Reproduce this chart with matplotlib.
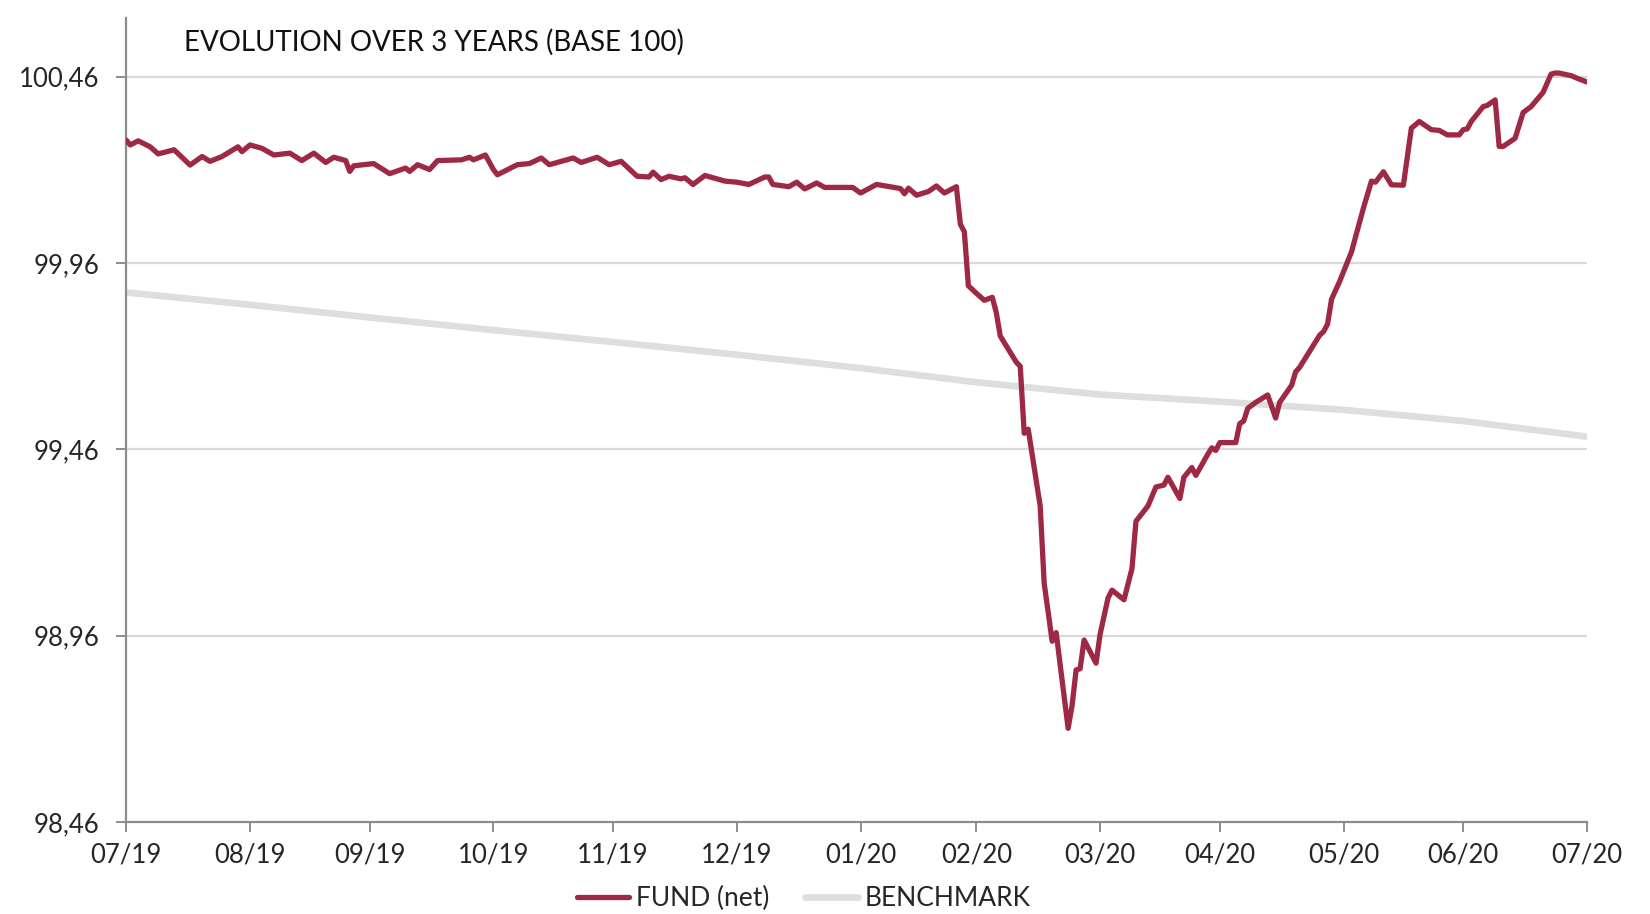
import pandas as pd
import matplotlib
matplotlib.use("Agg")
import matplotlib.pyplot as plt
import matplotlib.dates as mdates
from matplotlib.ticker import FuncFormatter

fund_dates = [
    "2019-07-31", "2019-08-01", "2019-08-03", "2019-08-06", "2019-08-08", "2019-08-12",
    "2019-08-16", "2019-08-19", "2019-08-21", "2019-08-24", "2019-08-28", "2019-08-29",
    "2019-08-31", "2019-09-03", "2019-09-06", "2019-09-10", "2019-09-13", "2019-09-16",
    "2019-09-19", "2019-09-21", "2019-09-24", "2019-09-25", "2019-09-26", "2019-10-01",
    "2019-10-05", "2019-10-09", "2019-10-10", "2019-10-12", "2019-10-15", "2019-10-17",
    "2019-10-23", "2019-10-25", "2019-10-26", "2019-10-29", "2019-10-31", "2019-11-01",
    "2019-11-06", "2019-11-09", "2019-11-12", "2019-11-14", "2019-11-17", "2019-11-20",
    "2019-11-22", "2019-11-26", "2019-11-29", "2019-12-02", "2019-12-06", "2019-12-09",
    "2019-12-10", "2019-12-12", "2019-12-14", "2019-12-17", "2019-12-18", "2019-12-20",
    "2019-12-23", "2019-12-28", "2019-12-31", "2020-01-03", "2020-01-07", "2020-01-08",
    "2020-01-09", "2020-01-13", "2020-01-15", "2020-01-17", "2020-01-20", "2020-01-22",
    "2020-01-29", "2020-01-31", "2020-02-04", "2020-02-10", "2020-02-11", "2020-02-12",
    "2020-02-14", "2020-02-17", "2020-02-19", "2020-02-21", "2020-02-24", "2020-02-25",
    "2020-02-26", "2020-02-27", "2020-02-29", "2020-03-02", "2020-03-04", "2020-03-05",
    "2020-03-06", "2020-03-10", "2020-03-11", "2020-03-12", "2020-03-13", "2020-03-16",
    "2020-03-17", "2020-03-19", "2020-03-20", "2020-03-23", "2020-03-24", "2020-03-25",
    "2020-03-26", "2020-03-27", "2020-03-30", "2020-03-31", "2020-04-02", "2020-04-03",
    "2020-04-06", "2020-04-08", "2020-04-09", "2020-04-12", "2020-04-14", "2020-04-16",
    "2020-04-17", "2020-04-20", "2020-04-21", "2020-04-23", "2020-04-24", "2020-04-27",
    "2020-04-28", "2020-04-29", "2020-04-30", "2020-05-04", "2020-05-05", "2020-05-06",
    "2020-05-07", "2020-05-09", "2020-05-12", "2020-05-14", "2020-05-15", "2020-05-18",
    "2020-05-19", "2020-05-20", "2020-05-25", "2020-05-26", "2020-05-27", "2020-05-28",
    "2020-05-30", "2020-06-02", "2020-06-05", "2020-06-07", "2020-06-08", "2020-06-10",
    "2020-06-12", "2020-06-15", "2020-06-17", "2020-06-19", "2020-06-22", "2020-06-24",
    "2020-06-26", "2020-06-29", "2020-06-30", "2020-07-01", "2020-07-02", "2020-07-05",
    "2020-07-06", "2020-07-08", "2020-07-09", "2020-07-10", "2020-07-13", "2020-07-15",
    "2020-07-17", "2020-07-20", "2020-07-22", "2020-07-23", "2020-07-24", "2020-07-27",
    "2020-07-29", "2020-07-31",
]
fund_values = [
    100.290, 100.277, 100.288, 100.272, 100.253, 100.264,
    100.223, 100.246, 100.233, 100.246, 100.272, 100.259,
    100.277, 100.268, 100.250, 100.255, 100.235, 100.255,
    100.230, 100.244, 100.235, 100.206, 100.221, 100.227,
    100.200, 100.215, 100.206, 100.224, 100.211, 100.235,
    100.237, 100.244, 100.237, 100.250, 100.211, 100.197,
    100.224, 100.227, 100.242, 100.224, 100.233, 100.242,
    100.230, 100.244, 100.224, 100.233, 100.193, 100.191,
    100.204, 100.184, 100.193, 100.186, 100.189, 100.171,
    100.195, 100.180, 100.177, 100.171, 100.191, 100.191,
    100.171, 100.165, 100.177, 100.159, 100.175, 100.163,
    100.163, 100.148, 100.171, 100.160, 100.146, 100.161,
    100.142, 100.152, 100.167, 100.148, 100.165, 100.064,
    100.044, 99.899, 99.879, 99.860, 99.868, 99.827,
    99.764, 99.694, 99.683, 99.503, 99.514, 99.308,
    99.100, 98.945, 98.968, 98.711, 98.773, 98.868,
    98.871, 98.948, 98.886, 98.963, 99.061, 99.082,
    99.056, 99.140, 99.267, 99.308, 99.359, 99.364,
    99.385, 99.328, 99.385, 99.411, 99.390, 99.447,
    99.464, 99.457, 99.478, 99.478, 99.529, 99.536,
    99.570, 99.586, 99.606, 99.544, 99.586, 99.632,
    99.668, 99.680, 99.766, 99.776, 99.796, 99.863,
    99.910, 99.990, 100.108, 100.180, 100.177, 100.205,
    100.170, 100.169, 100.322, 100.340, 100.318, 100.316,
    100.304, 100.304, 100.318, 100.320, 100.340, 100.380,
    100.383, 100.398, 100.273, 100.273, 100.295, 100.364,
    100.380, 100.418, 100.467, 100.470, 100.470, 100.463,
    100.454, 100.446,
]

bench_dates = [
    "2019-07-31", "2019-08-31", "2019-09-30", "2019-10-31", "2019-11-30", "2019-12-31",
    "2020-01-31", "2020-02-29", "2020-03-31", "2020-04-30", "2020-05-31", "2020-06-30",
    "2020-07-31",
]
bench_values = [
    99.881, 99.848, 99.814, 99.780, 99.748, 99.714,
    99.678, 99.640, 99.607, 99.588, 99.566, 99.536,
    99.494,
]

y_ticks = [98.46, 98.96, 99.46, 99.96, 100.46]

fund_color = "#9E2943"
bench_color = "#DEDEDE"
axis_color = "#8C8C8C"

plt.rcParams["font.family"] = ["Lato", "DejaVu Sans"]

fund = pd.Series(fund_values, index=pd.to_datetime(fund_dates))
bench = pd.Series(bench_values, index=pd.to_datetime(bench_dates))

fig = plt.figure(figsize=(16.5, 9.14), dpi=100)
ax = fig.add_axes([0.0765, 0.1008, 0.8853, 0.8796])

for y in y_ticks[1:]:
    ax.axhline(y, color="#D9D9D9", linewidth=1.6, zorder=0)

ax.plot(bench.index, bench.values, color=bench_color, linewidth=4.8,
        solid_capstyle="round", label="BENCHMARK", zorder=2)
ax.plot(fund.index, fund.values, color=fund_color, linewidth=3.8,
        solid_capstyle="round", solid_joinstyle="round", label="FUND (net)", zorder=3)

ax.set_xlim(pd.Timestamp("2019-07-31"), pd.Timestamp("2020-07-31"))
ax.set_ylim(98.46, 100.618)
ax.set_yticks(y_ticks)
ax.yaxis.set_major_formatter(FuncFormatter(lambda v, p: f"{v:.2f}".replace(".", ",")))
# month-end ticks, labelled with their own month
ax.set_xticks(bench.index)
ax.xaxis.set_major_formatter(mdates.DateFormatter("%m/%y"))

for side in ["top", "right"]:
    ax.spines[side].set_visible(False)
for side in ["left", "bottom"]:
    ax.spines[side].set_color(axis_color)
    ax.spines[side].set_linewidth(1.6)

ax.tick_params(axis="both", colors=axis_color, width=1.4, length=7,
               labelsize=18.5, labelcolor="#262626")
ax.tick_params(axis="y", pad=12)
ax.tick_params(axis="x", pad=8)

fig.text(0.1115, 0.954, "EVOLUTION OVER 3 YEARS (BASE 100)", fontsize=20,
         color="#111111", va="center", ha="left")

handles, labels = ax.get_legend_handles_labels()
fig.legend(handles[::-1], labels[::-1], loc="center", bbox_to_anchor=(0.487, 0.017),
           ncol=2, frameon=False, fontsize=19, handlelength=2.0,
           handletextpad=0.25, columnspacing=1.35, labelcolor="#262626",
           borderpad=0.1)

fig.savefig("out.png", dpi=100)
